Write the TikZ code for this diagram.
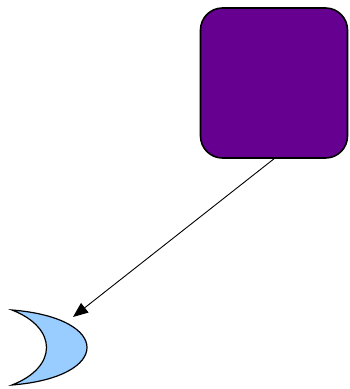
\documentclass[tikz,border=0pt]{standalone}
\usepackage{tikz}
\usepackage{xcolor}
\usetikzlibrary{arrows.meta,shapes}
\definecolor{plum}{HTML}{660090}
\definecolor{moonblue}{HTML}{99CCFF}

\begin{document}
\begin{tikzpicture}[x=1pt,y=-1pt,>={Triangle[length=15pt,width=12pt]}]
\useasboundingbox(0,0)rectangle(349,389);
\node[draw,line width=1.6pt,fill=plum,rounded corners=22pt,minimum width=147pt,minimum height=150pt,inner sep=0pt](box)at(274,83){};
%moon
\draw[line width=1.2pt,fill=moonblue](12,310)..controls(112,318)and(112,377)..(12,385)
..controls(58,367)and(58,328)..cycle;
\coordinate(moon)at(73,317);
\draw[->,line width=0.9pt](box.south)--(moon);
\end{tikzpicture}
\end{document}
